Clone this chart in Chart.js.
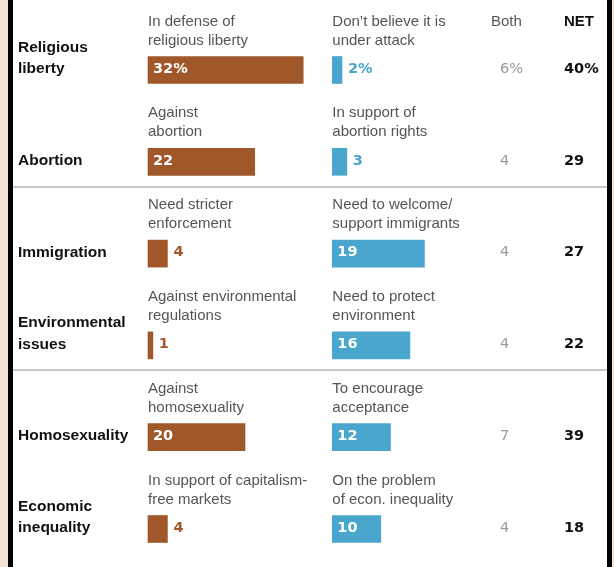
<!DOCTYPE html>
<html>
<head>
<meta charset="utf-8">
<script src="https://cdn.jsdelivr.net/npm/chart.js@4/dist/chart.umd.min.js"></script>
<style>
  html, body { margin: 0; padding: 0; background: #fff; }
  canvas { display: block; }
</style>
</head>
<body>
<canvas id="myChart" width="614" height="567"></canvas>
<script>
// rows
const categories = [
  ['Religious', 'liberty'],
  ['Abortion'],
  ['Immigration'],
  ['Environmental', 'issues'],
  ['Homosexuality'],
  ['Economic', 'inequality'],
];
const leftLabels = [
  ['In defense of', 'religious liberty'],
  ['Against', 'abortion'],
  ['Need stricter', 'enforcement'],
  ['Against environmental', 'regulations'],
  ['Against', 'homosexuality'],
  ['In support of capitalism-', 'free markets'],
];
const rightLabels = [
  ['Don’t believe it is', 'under attack'],
  ['In support of', 'abortion rights'],
  ['Need to welcome/', 'support immigrants'],
  ['Need to protect', 'environment'],
  ['To encourage', 'acceptance'],
  ['On the problem', 'of econ. inequality'],
];
const leftValues = [32, 22, 4, 1, 20, 4];
const rightValues = [2, 3, 19, 16, 12, 10];
const bothValues = [6, 4, 4, 4, 7, 4];
const netValues = [40, 29, 27, 22, 39, 18];

const BROWN = '#a0582a';
const BLUE = '#4aa6cc';
const GAP = 38; // right-hand bars start here on the shared x scale

// value label: % only on the first row
const fmt = (v, i) => (i === 0 ? v + '%' : String(v));

// text, borders and separators drawn around the bars
const textLayer = {
  id: 'textLayer',
  beforeDraw(chart) {
    const ctx = chart.ctx;
    const y = chart.scales.y;
    ctx.save();
    // beige page edges + black frame lines
    ctx.fillStyle = '#f2e2d4';
    ctx.fillRect(0, 0, 8, chart.height);
    ctx.fillRect(612, 0, 2, chart.height);
    ctx.fillStyle = '#000';
    ctx.fillRect(8, 0, 5, chart.height);
    ctx.fillRect(607, 0, 5, chart.height);
    // separators after rows 2 and 4
    ctx.strokeStyle = '#c8c8c8';
    ctx.lineWidth = 2;
    [1, 3].forEach(i => {
      const yy = Math.round(y.getPixelForValue(i) + 25);
      ctx.beginPath();
      ctx.moveTo(13, yy);
      ctx.lineTo(607, yy);
      ctx.stroke();
    });
    ctx.restore();
  },
  afterDatasetsDraw(chart) {
    const ctx = chart.ctx;
    const x = chart.scales.x;
    const y = chart.scales.y;
    const xL = x.getPixelForValue(0);
    const xR = x.getPixelForValue(GAP);
    const BOTH_X = 500, NET_X = 564;
    ctx.save();
    ctx.textBaseline = 'middle';
    ctx.textAlign = 'left';

    // headers
    const top = y.getPixelForValue(0) - 48.5;
    ctx.font = '15px "Liberation Sans", Arial, sans-serif';
    ctx.fillStyle = '#555';
    ctx.fillText('Both', 491, top);
    ctx.font = 'bold 15px "Liberation Sans", Arial, sans-serif';
    ctx.fillStyle = '#111';
    ctx.fillText('NET', NET_X, top);

    categories.forEach((cat, i) => {
      const c = y.getPixelForValue(i);

      // category name
      ctx.font = 'bold 15.5px "Liberation Sans", Arial, sans-serif';
      ctx.fillStyle = '#111';
      cat.forEach((line, k) => {
        ctx.fillText(line, 18, c - 1 - (cat.length - 1 - k) * 21.5);
      });

      // option labels above the bars
      ctx.font = '15px "Liberation Sans", Arial, sans-serif';
      ctx.fillStyle = '#555';
      leftLabels[i].forEach((line, k) => ctx.fillText(line, xL, c - 48.5 + k * 19));
      rightLabels[i].forEach((line, k) => ctx.fillText(line, xR, c - 48.5 + k * 19));

      // bar values
      ctx.font = 'bold 14.5px "DejaVu Sans", sans-serif';
      [[leftValues[i], 0, BROWN], [rightValues[i], GAP, BLUE]].forEach(([v, base, col]) => {
        const s = fmt(v, i);
        if (v >= 8) {
          ctx.fillStyle = '#fff';
          ctx.fillText(s, x.getPixelForValue(base) + 5, c - 1);
        } else {
          ctx.fillStyle = col;
          ctx.fillText(s, x.getPixelForValue(base + v) + 6, c - 1);
        }
      });

      // Both / NET columns
      ctx.font = '14.5px "DejaVu Sans", sans-serif';
      ctx.fillStyle = '#9a9a9a';
      ctx.fillText(fmt(bothValues[i], i), BOTH_X, c - 1);
      ctx.font = 'bold 14.5px "DejaVu Sans", sans-serif';
      ctx.fillStyle = '#111';
      ctx.fillText(fmt(netValues[i], i), NET_X, c - 1);
    });
    ctx.restore();
  },
};

const data = {
  labels: categories.map(c => c.join(' ')),
  datasets: [
    {
      label: 'left',
      data: leftValues.map(v => [0, v]),
      backgroundColor: BROWN,
    },
    {
      label: 'right',
      data: rightValues.map(v => [GAP, GAP + v]),
      backgroundColor: BLUE,
    },
  ],
};

const config = {
  type: 'bar',
  data: data,
  options: {
    indexAxis: 'y',
    responsive: false,
    animation: false,
    layout: {
      padding: { left: 148, right: 29.5, top: 70, bottom: 38 },
    },
    datasets: {
      bar: {
        grouped: false,
        barThickness: 27,
        borderWidth: 0,
        borderSkipped: false,
        clip: false,
      },
    },
    scales: {
      x: { display: false, min: 0, max: 90 },
      y: { display: false, offset: false, grid: { display: false } },
    },
    plugins: {
      legend: { display: false },
      tooltip: { enabled: false },
    },
  },
  plugins: [textLayer],
};

const myChart = new Chart(document.getElementById('myChart'), config);
</script>
</body>
</html>
